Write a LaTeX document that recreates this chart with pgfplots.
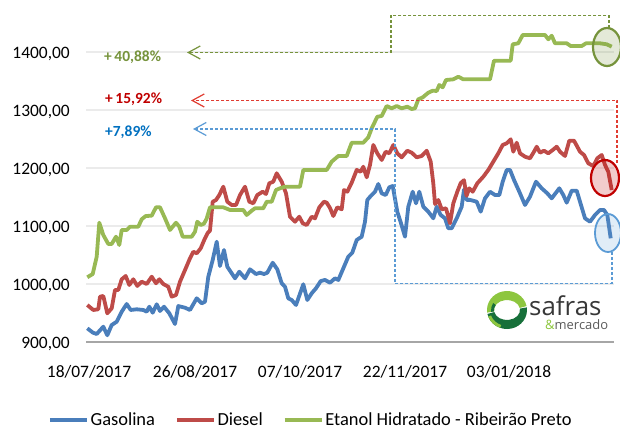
\documentclass[border=0pt]{standalone}
\usepackage{pgfplots}
\pgfplotsset{compat=1.18}
\usepackage{fontspec}
\setmainfont{Carlito}
\newfontfamily\logofont{Open Sans}
\usetikzlibrary{arrows.meta}
\definecolor{gas}{HTML}{4A7EBB}
\definecolor{die}{HTML}{BE4B48}
\definecolor{eta}{HTML}{98B954}
\definecolor{pctgreen}{HTML}{76933C}
\definecolor{pctred}{HTML}{C00000}
\definecolor{pctblue}{HTML}{0070C0}
\definecolor{dashred}{HTML}{E03C31}
\definecolor{dashblue}{HTML}{5B9BD5}
\definecolor{gridc}{HTML}{EBEBEB}
\definecolor{axisc}{HTML}{A6A6A6}
\definecolor{lgreen}{HTML}{8DC63F}
\definecolor{dgreen}{HTML}{17703A}
\begin{document}
\begin{tikzpicture}
\useasboundingbox (0,0) rectangle (620bp,429bp);
\begin{axis}[
  at={(86bp,87bp)}, anchor=south west, scale only axis,
  width=528bp, height=336.4bp,
  xmin=86, xmax=614, ymin=900, ymax=1480,
  clip=false,
  axis line style={draw=none},
  major tick length=0pt, tick style={draw=none},
  ytick={1000,1100,1200,1300,1400},
  yticklabels={{1000,00},{1100,00},{1200,00},{1300,00},{1400,00}},
  extra y ticks={900}, extra y tick labels={900{,}00},
  extra y tick style={grid style={axisc, line width=2bp}},
  ymajorgrids, grid style={gridc, line width=1.3bp},
  xtick={89,195,300,405,509},
  xticklabels={18/07/2017,26/08/2017,07/10/2017,22/11/2017,03/01/2018},
  /pgf/number format/assume math mode=true,
  ticklabel style={font=\fontsize{17.5}{20}\selectfont, inner sep=0pt},
  yticklabel style={anchor=base east, xshift=-16bp, yshift=-6bp},
  xticklabel style={anchor=base, yshift=-35.5bp},
  legend style={at={(axis description cs:-0.072,-0.232)}, anchor=west, draw=none, fill=none,
    inner sep=0pt, font=\fontsize{18.5}{20}\selectfont,
    /tikz/every even column/.append style={column sep=18bp}},
  legend columns=-1,
  legend image code/.code={\draw[#1, line width=3.5bp] (0bp,0bp) -- (37bp,0bp);},
  every axis plot/.append style={line width=3.8bp, line join=round, no markers},
]
\addplot[gas] coordinates {
(87.3,923.6)(93,916)(96.7,913.8)(103.3,926.4)(107.3,911.6)(111.7,929.3)(116.7,935)(121.7,952.2)
(126.7,965.5)(130.7,955.2)(136.7,956.4)(143.3,955.2)(146.7,952.2)(149.3,960.9)(152.7,950.5)
(156.7,965)(160,953.4)(164,960.9)(169.3,949.5)(175,931)(178.3,962)(185,959.1)(190,955.2)
(196.7,975.3)(201.7,966.7)(205,969.5)(208.3,1012.6)(212.7,1041.4)(216.7,1072.9)(220,1031)
(224,1058.6)(227.3,1029.8)(231.7,1018.4)(235,1009.8)(239.3,1021.2)(245,1009.8)(250,1025.3)
(256,1017.2)(260,1019.5)(264,1017.2)(267.3,1019.5)(272.7,1036.7)(277.3,1025.3)(281.7,1001.2)
(285,995.3)(288.3,975.3)(291.7,972.4)(296,963.8)(303.3,999.5)(307.3,972.4)(311.7,984)
(316,992.6)(320.7,1005)(325,1007)(330,1002.2)(335,1009.8)(338.3,1006.9)(343.3,1027)
(348.3,1047.1)(352.3,1054)(356.7,1075.9)(361.7,1081.6)(365,1107.4)(367.3,1144.8)(370.7,1151.7)
(375,1159.1)(378.3,1172.4)(381.7,1156.3)(385.7,1153.4)(389.3,1166.7)(392.7,1169)(397.3,1124.7)
(401,1104.7)(405,1081.6)(408.3,1133.3)(412.7,1159.1)(416,1139.1)(419.3,1159.1)(423.3,1133.3)
(428.3,1124.7)(433.3,1113.3)(436.7,1133.3)(440.7,1119)(445,1113.3)(448.3,1096.1)(451.7,1096.1)
(456.7,1113.3)(461.7,1133.3)(464,1163)(466.7,1145)(470,1145)(476.7,1141.9)(480.7,1124.7)
(485,1147.7)(490,1159.1)(495,1153.4)(499.3,1153.4)(502.7,1176.4)(506.7,1196.6)(510,1196.6)
(514,1179.3)(519.3,1159.1)(525,1136.2)(530,1150.5)(536,1176.4)(541.7,1165)(547.3,1156.3)
(551.7,1147.7)(559.3,1165)(563.3,1153.4)(566.7,1140.2)(571.7,1160.9)(576.7,1160.9)(580,1141.9)
(585,1113.3)(590,1107.4)(595,1119)(600,1127.6)(604,1127.6)(607.3,1119)(610.7,1078.8)
};
\addlegendentry{Gasolina}
\addplot[die] coordinates {
(87.3,963.8)(93.3,955.2)(98.3,956.4)(100,978.1)(103.3,979.3)(107.3,949.5)(111.7,958.1)(115,989.7)
(118.3,989.7)(121.7,1008.1)(125.7,1013.8)(129.3,998.3)(133.3,1008.1)(137.3,996.6)(141.7,1004)
(146.7,1000)(151.7,1012.6)(156,1001.2)(159.3,1008.1)(163.3,1000)(168.3,995.3)(171.7,978.1)
(176,981)(180,1004)(185,1024.1)(190,1044.3)(193.3,1055.7)(196.7,1052.9)(200.7,1061.5)
(204,1075)(207.7,1088)(210,1092)(212.7,1141.9)(216,1144.8)(219.3,1153.4)(223.3,1167.8)
(227.3,1141.9)(231.7,1136.2)(236,1136.2)(240,1153.4)(245,1167.8)(249.3,1141.9)(253.3,1139.1)
(257.3,1153.4)(262.7,1159.1)(266,1155.2)(269.3,1173.6)(273.3,1176.4)(276.7,1190.9)(281.7,1176.4)
(286,1156.3)(290,1116)(295,1107.4)(299.3,1116)(302.7,1104.7)(306.7,1101.7)(311.7,1116)
(315,1113.3)(319.3,1132.2)(324,1141.9)(326.7,1140.2)(330,1131)(333.3,1117.2)(337.3,1132.2)
(341.7,1128.8)(344,1162.1)(347.3,1159.1)(351.7,1174.7)(356.7,1196.6)(360.7,1193.6)(363.3,1202.2)
(366.7,1183.9)(370,1205.2)(373.3,1239.7)(377.3,1225.3)(381.7,1213.8)(385.7,1228.1)(389.3,1225.3)
(393.3,1239.7)(397.3,1225.3)(401.7,1218.4)(407.3,1229.8)(411.7,1226.4)(416.7,1218.4)(421.7,1220.7)
(426.7,1229.8)(430.7,1210.9)(433.3,1173.6)(435,1137.9)(438.3,1144.8)(441.7,1128.8)(446,1130.5)
(450,1104.7)(453.3,1139.1)(457.3,1159.1)(460.7,1174)(464,1179)(466.5,1152)(469.3,1165)
(472.7,1159.1)(477.3,1173.6)(483.3,1185)(488.3,1196.6)(493.3,1210.9)(498.3,1225.3)(502.7,1239.7)
(506.7,1242.6)(510.7,1249.5)(513.3,1228.1)(516.7,1243.6)(520,1225.3)(525,1219.5)(530,1216.7)
(534,1228.1)(536.7,1236.7)(540,1226.4)(544,1229.8)(548.3,1225.3)(552.7,1231)(556.7,1236.7)
(560,1228.1)(565,1220.7)(569.3,1247.1)(574,1247.1)(577.3,1236.7)(580,1228.1)(584,1222.4)
(588.3,1208.1)(593.3,1203.4)(597.3,1216.7)(601.7,1222.4)(605,1205.2)(608.3,1193.6)(611.7,1162.1)
};
\addlegendentry{Diesel}
\addplot[eta] coordinates {
(87.3,1011.6)(92.7,1017.2)(96.7,1047.1)(99.3,1105.7)(103.3,1084.5)(108.3,1069)(111.7,1069)
(116,1081.6)(119.3,1067.2)(121.7,1093.1)(126.7,1093.1)(130,1098.8)(138.3,1098.8)(141.7,1111.6)
(145.7,1117.2)(151.7,1117.8)(156,1132.2)(160,1132.2)(165,1113.3)(170,1093.1)(176,1105.7)
(179.3,1098.8)(182.7,1081.6)(191.7,1081.6)(195,1090.2)(197.3,1107.4)(200.7,1101.7)(204,1104)
(206.7,1113)(210,1132.2)(223.3,1132.2)(230,1127.6)(243.3,1127.6)(246.7,1119)(251.7,1126.4)
(255,1130.5)(263.3,1130.5)(266.7,1141.9)(271.7,1141.9)(276,1162.1)(280,1165)(285,1167.8)
(300,1167.8)(303.3,1196.6)(326.7,1196.6)(331.7,1210.9)(338.3,1220.7)(346.7,1220.7)(351.7,1243.6)
(363.3,1243.6)(368.3,1252.9)(371.7,1268.4)(377.3,1288.4)(381.7,1289.7)(386.7,1306.9)(391.7,1302.9)
(396.7,1306.9)(401.7,1302.9)(407.3,1305.7)(411.7,1301.7)(415,1302.9)(418.3,1318.4)(422.7,1321.8)
(428.3,1329.8)(432.7,1333.3)(436.7,1332.8)(439.3,1343.1)(442.7,1339.1)(446,1351.7)(453.3,1352.9)
(458.3,1357.4)(463.3,1352.9)(490,1352.9)(494,1385)(510.7,1385)(512.7,1413.3)(518.3,1415)
(522.7,1429.3)(545,1429.3)(548.3,1421.9)(551.7,1428.1)(555,1415)(566.7,1415)(570.7,1410.3)
(581.7,1410.3)(586,1415)(600,1415)(606.7,1413.3)(611.7,1409.2)
};
\addlegendentry{Etanol Hidratado - Ribeirão Preto}
\end{axis}
% annotations in reference pixel coordinates (y downward)
\begin{scope}[x=1bp, y=-1bp, yshift=429bp]
  \draw[pctgreen, line width=2.2bp, fill=pctgreen, fill opacity=0.2] (607,47) ellipse [x radius=14, y radius=19];
  \draw[pctred, line width=2.2bp, fill=pctred, fill opacity=0.2] (605,178) ellipse [x radius=14, y radius=18];
  \draw[dashblue, line width=1.8bp, fill=dashblue, fill opacity=0.18] (608,233) ellipse [x radius=13, y radius=19];
  \draw[pctgreen, line width=1.2bp, dash pattern=on 3bp off 2bp, -{Straight Barb[length=12bp,width=13bp]}]
    (609,28) -- (609,15.7) -- (391,15.7) -- (391,52.5) -- (187,52.5);
  \draw[dashred, line width=1.2bp, dash pattern=on 3bp off 2bp, -{Straight Barb[length=12bp,width=13bp]}]
    (617,163) -- (617,100.5) -- (191,100.5);
  \draw[dashblue, line width=1.2bp, dash pattern=on 3bp off 2bp, -{Straight Barb[length=12bp,width=13bp]}]
    (612,252) -- (612,283.3) -- (395,283.3) -- (395,129) -- (193,129);
  \node[anchor=base west, inner sep=0pt, text=pctgreen, font=\bfseries\fontsize{15.5}{18}\selectfont] at (104,62) {+\,40,88\%};
  \node[anchor=base west, inner sep=0pt, text=pctred, font=\bfseries\fontsize{15.5}{18}\selectfont] at (105,104) {+\,15,92\%};
  \node[anchor=base west, inner sep=0pt, text=pctblue, font=\bfseries\fontsize{15.5}{18}\selectfont] at (105,137) {+7,89\%};
\end{scope}
% logo
\begin{scope}[x=1bp, y=1bp, shift={(507bp,119bp)}]
  \fill[lgreen] (12:20 and 19) arc[start angle=12, end angle=188, x radius=20, y radius=19]
     -- (188:13 and 10) arc[start angle=188, end angle=12, x radius=13, y radius=10] -- cycle;
  \fill[dgreen] (150:16 and 14) arc[start angle=150, end angle=188, x radius=16, y radius=14]
     -- (188:13 and 10) arc[start angle=188, end angle=150, x radius=13, y radius=10] -- cycle;
  \fill[dgreen] (192:20 and 19) arc[start angle=192, end angle=368, x radius=20, y radius=19]
     -- (368:13 and 10) arc[start angle=368, end angle=192, x radius=13, y radius=10] -- cycle;
  \fill[lgreen] (200:20 and 19) arc[start angle=200, end angle=250, x radius=20, y radius=19]
     -- (250:17 and 16) arc[start angle=250, end angle=200, x radius=17, y radius=16] -- cycle;
\end{scope}
\node[anchor=base west, inner sep=0pt, text=black!78, font=\logofont\fontsize{26}{28}\selectfont] at (529bp,113bp) {safras};
\node[anchor=base west, inner sep=0pt, font=\logofont\fontsize{13}{15}\selectfont] at (545bp,99.5bp) {\textcolor{lgreen}{\&}\textcolor{black!65}{mercado}};
\end{tikzpicture}
\end{document}
